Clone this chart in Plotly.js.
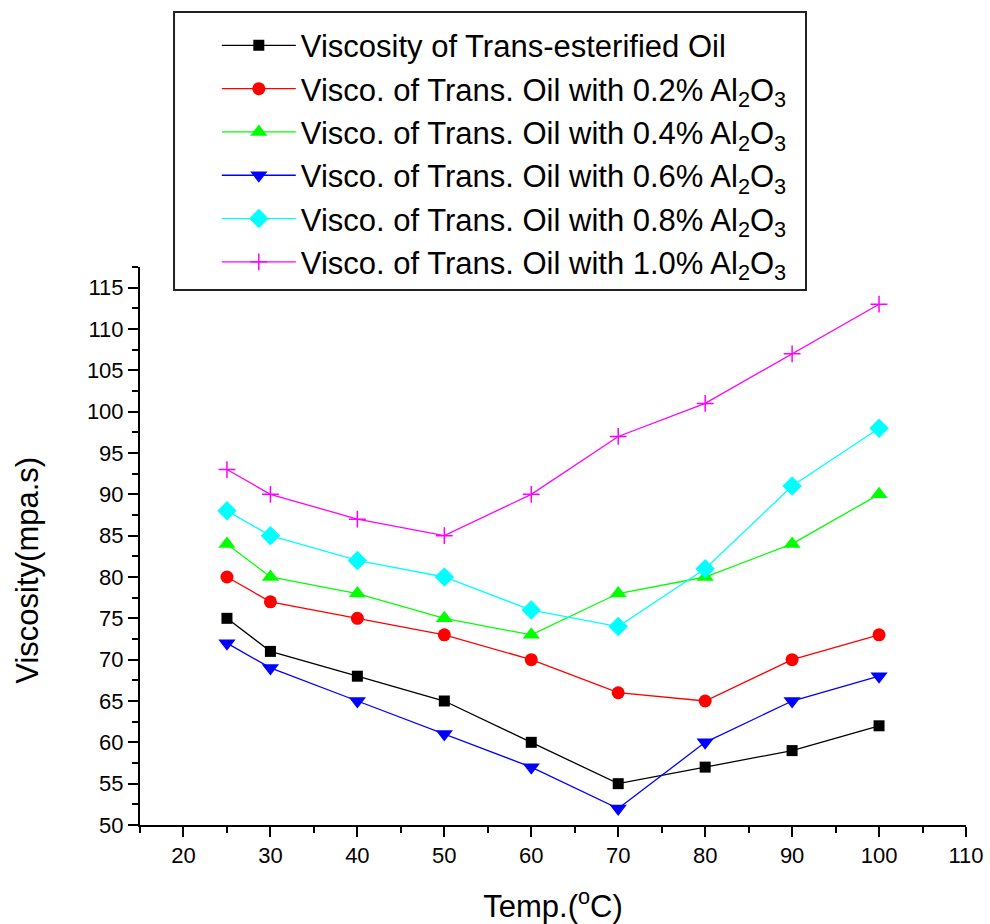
<!DOCTYPE html>
<html><head><meta charset="utf-8">
<script src="https://cdn.plot.ly/plotly-3.0.1.min.js"></script>
<style>body{margin:0;background:#fff}#c{width:990px;height:924px}</style>
</head><body><div id="c"></div>
<script>
const temps = [25, 30, 40, 50, 60, 70, 80, 90, 100];
const viscBase = [75, 71, 68, 65, 60, 55, 57, 59, 62];
const visc02 = [80, 77, 75, 73, 70, 66, 65, 70, 73];
const visc04 = [84, 80, 78, 75, 73, 78, 80, 84, 90];
const visc06 = [72, 69, 65, 61, 57, 52, 60, 65, 68];
const visc08 = [88, 85, 82, 80, 76, 74, 81, 91, 98];
const visc10 = [93, 90, 87, 85, 90, 97, 101, 107, 113];
const names = [
  'Viscosity of Trans-esterified Oil',
  'Visco. of Trans. Oil with 0.2% Al<sub>2</sub>O<sub>3</sub>',
  'Visco. of Trans. Oil with 0.4% Al<sub>2</sub>O<sub>3</sub>',
  'Visco. of Trans. Oil with 0.6% Al<sub>2</sub>O<sub>3</sub>',
  'Visco. of Trans. Oil with 0.8% Al<sub>2</sub>O<sub>3</sub>',
  'Visco. of Trans. Oil with 1.0% Al<sub>2</sub>O<sub>3</sub>'
];
const xTickVals = [20, 30, 40, 50, 60, 70, 80, 90, 100, 110];
const xMinorVals = [15, 25, 35, 45, 55, 65, 75, 85, 95, 105];
const series = [viscBase, visc02, visc04, visc06, visc08, visc10];
const colors = ['#000000', '#ff0000', '#00ff00', '#0000ff', '#00ffff', '#ff00ff'];
const symbols = ['square', 'circle', 'triangle-up', 'triangle-down', 'diamond', 'cross-thin-open'];
const sizes = [11, 13, 15, 15, 15, 12];

const traces = series.map((ys, i) => ({
  x: temps, y: ys, name: names[i], type: 'scatter', mode: 'lines+markers',
  line: {color: colors[i], width: 1.3},
  marker: {symbol: symbols[i], size: sizes[i], color: colors[i],
           line: {color: colors[i], width: i === 5 ? 1.5 : 0}}
}));

const layout = {
  width: 990, height: 924,
  margin: {l: 140, r: 24, t: 267, b: 99},
  paper_bgcolor: '#fff', plot_bgcolor: '#fff',
  font: {family: 'Liberation Sans, Arial, sans-serif', color: '#000'},
  showlegend: true,
  legend: {x: 0.093, y: 1.445, xanchor: 'left', yanchor: 'top',
           borderwidth: 0, bgcolor: 'rgba(0,0,0,0)',
           font: {size: 31, color: '#000'}, itemwidth: 74, tracegroupgap: 0},
  shapes: [{type: 'rect', xref: 'paper', yref: 'paper', x0: 0.0412, x1: 0.8063, y0: 0.9588, y1: 1.457,
            line: {color: '#222', width: 2}, fillcolor: 'rgba(0,0,0,0)'}],
  annotations: [{text: 'Viscosity(mpa.s)', xref: 'paper', yref: 'paper', x: -0.136, y: 0.457,
                 textangle: -90, showarrow: false, font: {size: 31}, xanchor: 'center', yanchor: 'middle'}],
  xaxis: {range: [15, 110], tickvals: xTickVals,
          ticks: 'outside', ticklen: 10, tickwidth: 2, tickcolor: '#000',
          showline: true, linewidth: 2, linecolor: '#000', showgrid: false, zeroline: false,
          tickfont: {size: 22},
          minor: {tickvals: xMinorVals, ticks: 'outside', ticklen: 6, tickwidth: 2, tickcolor: '#000', showgrid: false},
          title: {text: 'Temp.(<sup>o</sup>C)', font: {size: 31}, standoff: 28}},
  yaxis: {range: [50, 117.5], dtick: 5, tick0: 50,
          ticks: 'outside', ticklen: 10, tickwidth: 2, tickcolor: '#000',
          showline: true, linewidth: 2, linecolor: '#000', showgrid: false, zeroline: false,
          tickfont: {size: 22},
          minor: {dtick: 2.5, tick0: 50, ticks: 'outside', ticklen: 6, tickwidth: 2, tickcolor: '#000', showgrid: false}}
};
Plotly.newPlot('c', traces, layout, {displayModeBar: false});
</script></body></html>
